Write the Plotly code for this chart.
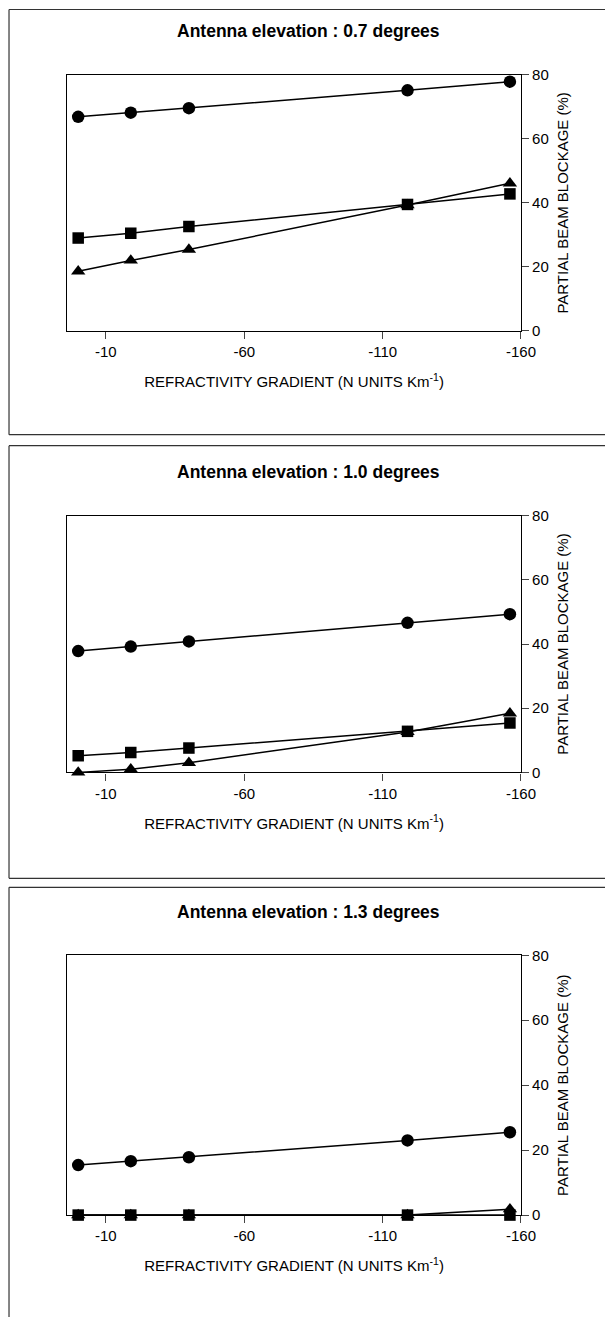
import plotly.graph_objects as go

# ---------------- data ----------------
gradient = [0, -19, -40, -119, -156]          # N units per km

titles = [
    "Antenna elevation : 0.7 degrees",
    "Antenna elevation : 1.0 degrees",
    "Antenna elevation : 1.3 degrees",
]

circle_07 = [66.9, 68.2, 69.6, 75.2, 77.9]
square_07 = [29.0, 30.5, 32.6, 39.5, 42.8]
triangle_07 = [18.6, 22.0, 25.4, 39.3, 46.1]

circle_10 = [37.8, 39.2, 40.8, 46.6, 49.3]
square_10 = [5.2, 6.2, 7.6, 12.8, 15.4]
triangle_10 = [0.0, 1.0, 3.0, 12.6, 18.4]

circle_13 = [15.4, 16.6, 17.8, 23.0, 25.5]
square_13 = [0.0, 0.0, 0.0, 0.0, 0.0]
triangle_13 = [0.0, 0.0, 0.0, 0.0, 1.8]

x_tickvals = [-10, -60, -110, -160]
x_ticktext = ["-10", "-60", "-110", "-160"]
y_tickvals = [0, 20, 40, 60, 80]

panels = [
    (circle_07, square_07, triangle_07),
    (circle_10, square_10, triangle_10),
    (circle_13, square_13, triangle_13),
]

# ---------------- layout helpers ----------------
W, H = 621, 1333
SX, SY, OY = 0.974, 0.988, 8.0   # observed photo scaling of the page

def px(x):   # target picture x-pixel -> paper x
    return (x / SX) / W

def py(y):   # target picture y-pixel -> paper y
    return 1 - max((y - OY) / SY, 0.5) / H

plot_x = (px(67), px(520))
plot_y = [(74, 330), (515, 772), (955, 1215)]
title_y = [30, 471, 912]
frames = [(5, 434), (445, 878), (887, None)]
frame_left = px(9)

FONT = "Liberation Sans, Arial, sans-serif"

fig = go.Figure()
layout = dict(
    width=W, height=H,
    margin=dict(l=0, r=0, t=0, b=0),
    paper_bgcolor="white", plot_bgcolor="white",
    showlegend=False,
    font=dict(family=FONT, color="black", size=15),
    shapes=[], annotations=[],
)

symbols = ["circle", "square", "triangle-up"]
sizes = [12.5, 11.5, 12.5]
frame_line = dict(color="#333333", width=1.2)
for i, series in enumerate(panels):
    n = "" if i == 0 else str(i + 1)
    xa, ya = "x" + n, "y" + n
    for vals, sym, sz in zip(series, symbols, sizes):
        fig.add_trace(go.Scatter(
            x=gradient, y=vals, xaxis=xa, yaxis=ya,
            mode="lines+markers", cliponaxis=False,
            line=dict(color="black", width=1.5),
            marker=dict(symbol=sym, size=sz, color="black"),
        ))
    top, bot = plot_y[i]
    layout["xaxis" + n] = dict(
        domain=list(plot_x), anchor=ya, range=[4, -160],
        tickvals=x_tickvals, ticktext=x_ticktext,
        ticks="outside", ticklen=7, tickwidth=1,
        showline=True, linecolor="black", linewidth=1.2, mirror=True,
        showgrid=False, zeroline=False,
        tickfont=dict(size=15, family=FONT),
        title=dict(text="REFRACTIVITY GRADIENT (N UNITS Km<sup>-1</sup>)",
                   font=dict(size=15, family=FONT), standoff=17),
    )
    layout["yaxis" + n] = dict(
        domain=[py(bot), py(top)], anchor=xa, side="right", range=[0, 80],
        tickvals=y_tickvals, ticks="outside", ticklen=7, tickwidth=1,
        showline=True, linecolor="black", linewidth=1.2, mirror=True,
        showgrid=False, zeroline=False,
        tickfont=dict(size=15, family=FONT),
        title=dict(text="PARTIAL BEAM BLOCKAGE (%)",
                   font=dict(size=15, family=FONT), standoff=9),
    )
    layout["annotations"].append(dict(
        text="<b>" + titles[i] + "</b>", xref="paper", yref="paper",
        x=px(308), y=py(title_y[i]), xanchor="center", yanchor="middle",
        showarrow=False, font=dict(size=17.5, family=FONT),
    ))
    f0, f1 = frames[i]
    layout["shapes"].append(dict(type="line", xref="paper", yref="paper",
                                 x0=frame_left, x1=1, y0=py(f0), y1=py(f0),
                                 line=frame_line))
    layout["shapes"].append(dict(type="line", xref="paper", yref="paper",
                                 x0=frame_left, x1=frame_left, y0=py(f0),
                                 y1=0 if f1 is None else py(f1),
                                 line=frame_line))
    if f1 is not None:
        layout["shapes"].append(dict(type="line", xref="paper", yref="paper",
                                     x0=frame_left, x1=1, y0=py(f1), y1=py(f1),
                                     line=frame_line))

fig.update_layout(**layout)
fig.write_html(
    "out.html",
    config={"displayModeBar": False},
    post_script="document.body.style.margin='0';document.body.style.overflow='hidden';",
)
